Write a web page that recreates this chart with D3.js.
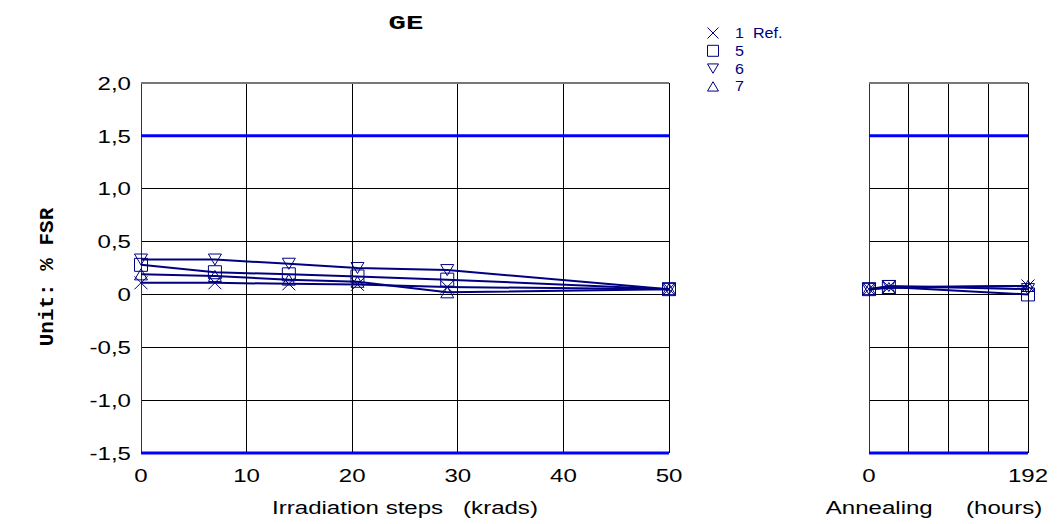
<!DOCTYPE html>
<html><head><meta charset="utf-8">
<script src="https://cdn.jsdelivr.net/npm/d3@7"></script>
<style>body{margin:0;background:#fff}svg{display:block}</style>
</head><body>
<svg id="c" width="1062" height="524"></svg>
<script>
// ---- data ----
const irrSteps = [0, 7, 14, 20.5, 29, 50];
const irrRef = [0.11, 0.11, 0.10, 0.095, 0.07, 0.05];
const irr5 = [0.28, 0.21, 0.19, 0.17, 0.14, 0.05];
const irr6 = [0.33, 0.33, 0.29, 0.25, 0.23, 0.05];
const irr7 = [0.19, 0.175, 0.14, 0.12, 0.02, 0.05];
const annSteps = [0, 24, 192];
const annRef = [0.05, 0.07, 0.08];
const ann5 = [0.05, 0.07, 0.0];
const ann6 = [0.05, 0.08, 0.05];
const ann7 = [0.05, 0.06, 0.08];
const seriesNames = ["1  Ref.", "5", "6", "7"];
const seriesSymbols = ["x", "square", "down", "up"];
const yTicks = [2.0, 1.5, 1.0, 0.5, 0, -0.5, -1.0, -1.5];
const yTickLabels = ["2,0", "1,5", "1,0", "0,5", "0", "-0,5", "-1,0", "-1,5"];
const irrTicks = [0, 10, 20, 30, 40, 50];
const annGrid = [0, 48, 96, 144, 192];
const annTickLabels = [0, 192];
const limits = [1.5, -1.5];

const svg = d3.select("#c");
const navy = "#000080";
const y = d3.scaleLinear().domain([-1.5, 2.0]).range([453, 83]);
const xL = d3.scaleLinear().domain([0, 50]).range([141, 669]);
const xR = d3.scaleLinear().domain([0, 192]).range([869, 1028]);

function symbolPath(type, s) {
  const h = s / 2;
  if (type === "x") return `M${-h},${-h}L${h},${h}M${-h},${h}L${h},${-h}`;
  if (type === "square") return `M${-h},${-h}H${h}V${h}H${-h}Z`;
  if (type === "down") return `M${-h},${-h*0.85}H${h}L0,${h*0.85}Z`;
  if (type === "up") return `M${-h},${h*0.85}H${h}L0,${-h*0.85}Z`;
}

function panel(x, gridX, seriesX, seriesY) {
  const g = svg.append("g");
  const [x0, x1] = x.range();
  g.selectAll(".hg").data(yTicks.filter(v => v < 1.5 && v > -1.5)).enter().append("line")
    .attr("x1", x0).attr("x2", x1).attr("y1", d => y(d)).attr("y2", d => y(d))
    .attr("stroke", "#000").attr("stroke-width", 1).attr("shape-rendering", "crispEdges");
  g.selectAll(".vg").data(gridX).enter().append("line")
    .attr("x1", d => x(d)).attr("x2", d => x(d)).attr("y1", y(2.0)).attr("y2", y(-1.5))
    .attr("stroke", (d, i) => (i === 0 ? "#333" : "#000")).attr("stroke-width", 1).attr("shape-rendering", "crispEdges");
  g.append("line").attr("x1", x0).attr("x2", x1).attr("y1", y(2.0)).attr("y2", y(2.0))
    .attr("stroke", "#777").attr("stroke-width", 1.5).attr("shape-rendering", "crispEdges");
  g.selectAll(".lim").data(limits).enter().append("line")
    .attr("x1", x0).attr("x2", x1).attr("y1", d => y(d)).attr("y2", d => y(d))
    .attr("stroke", "#0000ff").attr("stroke-width", 3);
  const line = d3.line().x(d => x(d[0])).y(d => y(d[1]));
  seriesY.forEach((vals) => {
    const pts = seriesX.map((xv, i) => [xv, vals[i]]);
    g.append("path").attr("d", line(pts)).attr("fill", "none")
      .attr("stroke", navy).attr("stroke-width", 2);
  });
  seriesY.forEach((vals, si) => {
    const pts = seriesX.map((xv, i) => [xv, vals[i]]);
    g.selectAll(null).data(pts).enter().append("path")
      .attr("transform", d => `translate(${x(d[0])},${y(d[1])})`)
      .attr("d", symbolPath(seriesSymbols[si], 13))
      .attr("fill", "none").attr("stroke", navy).attr("stroke-width", 1);
  });
}

panel(xL, irrTicks, irrSteps, [irrRef, irr5, irr6, irr7]);
panel(xR, annGrid, annSteps, [annRef, ann5, ann6, ann7]);

const font = "'Liberation Sans', Arial, sans-serif";
const mono = "'Liberation Mono', 'Courier New', monospace";
function stext(x, yy, str, opts) {
  const o = Object.assign({size: 18.5, sx: 1.3, anchor: "middle", family: font, fill: "#000", weight: "normal"}, opts || {});
  return svg.append("text")
    .attr("transform", `translate(${x},${yy}) scale(${o.sx},1)`)
    .attr("text-anchor", o.anchor).attr("font-family", o.family)
    .attr("font-size", o.size).attr("font-weight", o.weight).attr("fill", o.fill)
    .attr("xml:space", "preserve").text(str);
}
yTicks.forEach((v, i) => stext(131, y(v) + 6.7, yTickLabels[i], {anchor: "end"}));
irrTicks.forEach(v => stext(xL(v), 482, String(v)));
annTickLabels.forEach(v => stext(xR(v), 482, String(v)));
stext(405, 514, "Irradiation steps   (krads)");
stext(934, 514, "Annealing     (hours)");
svg.append("text").attr("transform", "translate(53,277) rotate(-90)").attr("text-anchor", "middle")
  .attr("font-family", mono).attr("font-weight", "bold")
  .attr("font-size", 21).attr("xml:space", "preserve").text("Unit: % FSR");
stext(406, 29, "GE", {family: mono, weight: "bold", size: 20, sx: 1.45});
// legend
seriesNames.forEach((name, i) => {
  const ly = 33 + i * 17.8;
  svg.append("path").attr("transform", `translate(713,${ly})`)
    .attr("d", symbolPath(seriesSymbols[i], 11)).attr("fill", "none")
    .attr("stroke", navy).attr("stroke-width", 1);
  stext(735, ly + 5, name, {anchor: "start", size: 14, sx: 1.15, fill: navy});
});
</script>
</body></html>
